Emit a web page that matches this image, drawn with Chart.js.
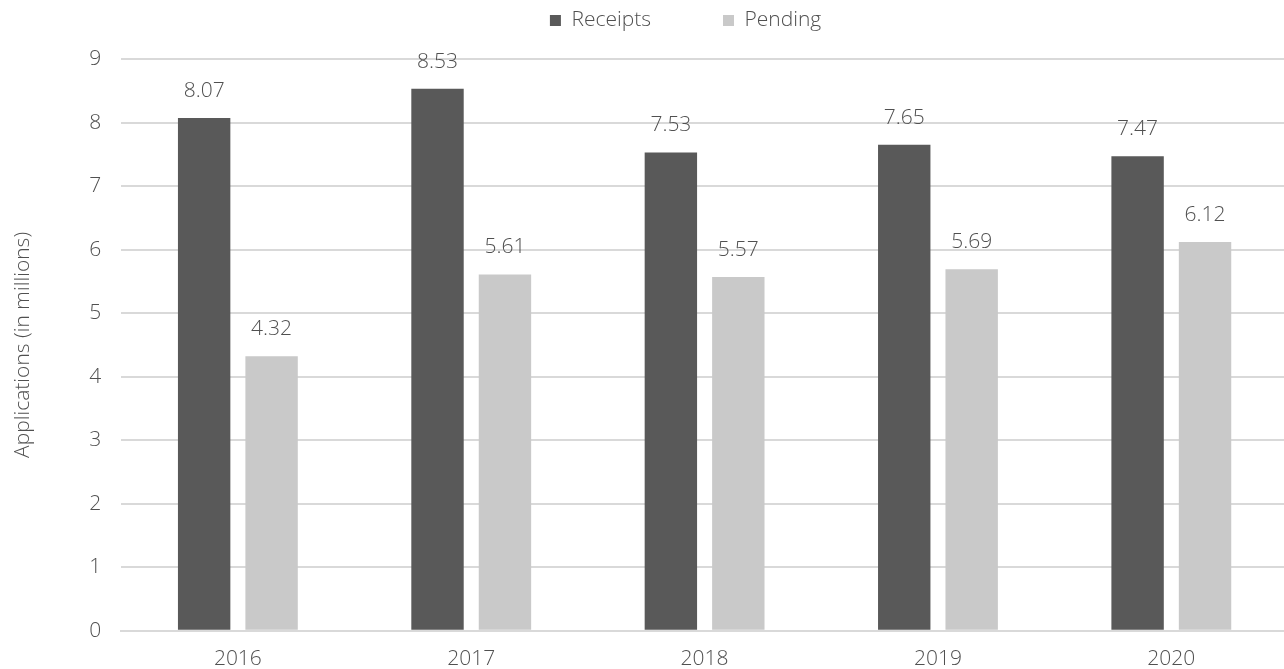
<!DOCTYPE html>
<html>
<head>
<meta charset="utf-8">
<script src="https://cdn.jsdelivr.net/npm/chart.js@4/dist/chart.umd.min.js"></script>
<style>
    html, body { margin: 0; padding: 0; background: #fff; overflow: hidden; }
    #wrap { width: 1288px; height: 669px; position: relative; }
</style>
</head>
<body>
<div id="wrap"><canvas id="applicationsChart"></canvas></div>
<script>
const years = ['2016', '2017', '2018', '2019', '2020'];
const receipts = [8.07, 8.53, 7.53, 7.65, 7.47];
const pending = [4.32, 5.61, 5.57, 5.69, 6.12];
const yTicks = [0, 1, 2, 3, 4, 5, 6, 7, 8, 9];

const textColor = '#505050';
const fontFamily = "'Open Sans', 'Noto Sans', sans-serif";
const baseFont = { family: fontFamily, size: 21, weight: '300' };

// writes each bar's value just above it
const valueLabels = {
    id: 'valueLabels',
    afterDatasetsDraw(chart) {
        const ctx = chart.ctx;
        ctx.save();
        ctx.fillStyle = textColor;
        ctx.font = '300 21px ' + fontFamily;
        ctx.textAlign = 'center';
        ctx.textBaseline = 'middle';
        chart.data.datasets.forEach(function(ds, i) {
            chart.getDatasetMeta(i).data.forEach(function(bar, j) {
                ctx.fillText(ds.data[j].toFixed(2), bar.x, bar.y - 27);
            });
        });
        ctx.restore();
    }
};

// extra room between the legend and the plot, legend nudged left a bit
const legendTweak = {
    id: 'legendTweak',
    beforeLayout(chart) {
        const legend = chart.legend;
        if (!legend || legend._gapAdded) return;
        const fit = legend.fit;
        legend.fit = function() {
            fit.call(this);
            this.height += 18;
        };
        legend._gapAdded = true;
    },
    afterLayout(chart) {
        const legend = chart.legend;
        if (!legend) return;
        legend.left -= 19;
        legend.right -= 19;
    }
};

document.addEventListener('DOMContentLoaded', function() {
    const canvas = document.getElementById('applicationsChart');
    new Chart(canvas.getContext('2d'), {
        type: 'bar',
        data: {
            labels: years,
            datasets: [{
                label: 'Receipts',
                data: receipts,
                backgroundColor: '#595959',
                categoryPercentage: 0.578,
                barPercentage: 0.777
            }, {
                label: 'Pending',
                data: pending,
                backgroundColor: '#c9c9c9',
                categoryPercentage: 0.578,
                barPercentage: 0.777
            }]
        },
        options: {
            responsive: true,
            maintainAspectRatio: false,
            animation: false,
            layout: { padding: { top: -62, left: 10, right: 0, bottom: -19 } },
            plugins: {
                legend: {
                    position: 'top',
                    fullSize: false,
                    labels: {
                        boxWidth: 11,
                        boxHeight: 11,
                        padding: 72,
                        color: textColor,
                        font: baseFont
                    }
                },
                tooltip: { enabled: false }
            },
            scales: {
                x: {
                    grid: { display: false, drawTicks: false },
                    border: { display: true, color: '#d9d9d9', width: 2 },
                    ticks: {
                        color: textColor,
                        padding: 16,
                        font: baseFont
                    }
                },
                y: {
                    min: 0,
                    max: 9,
                    afterBuildTicks(axis) {
                        axis.ticks = yTicks.map(function(v) { return { value: v }; });
                    },
                    grid: { color: '#d9d9d9', lineWidth: 2, drawTicks: false },
                    border: { display: false },
                    ticks: {
                        color: textColor,
                        padding: 20,
                        font: baseFont
                    },
                    title: {
                        display: true,
                        text: 'Applications (in millions)',
                        color: textColor,
                        padding: { top: 0, bottom: 34 },
                        font: baseFont
                    }
                }
            }
        },
        plugins: [valueLabels, legendTweak]
    });
});
</script>
</body>
</html>
